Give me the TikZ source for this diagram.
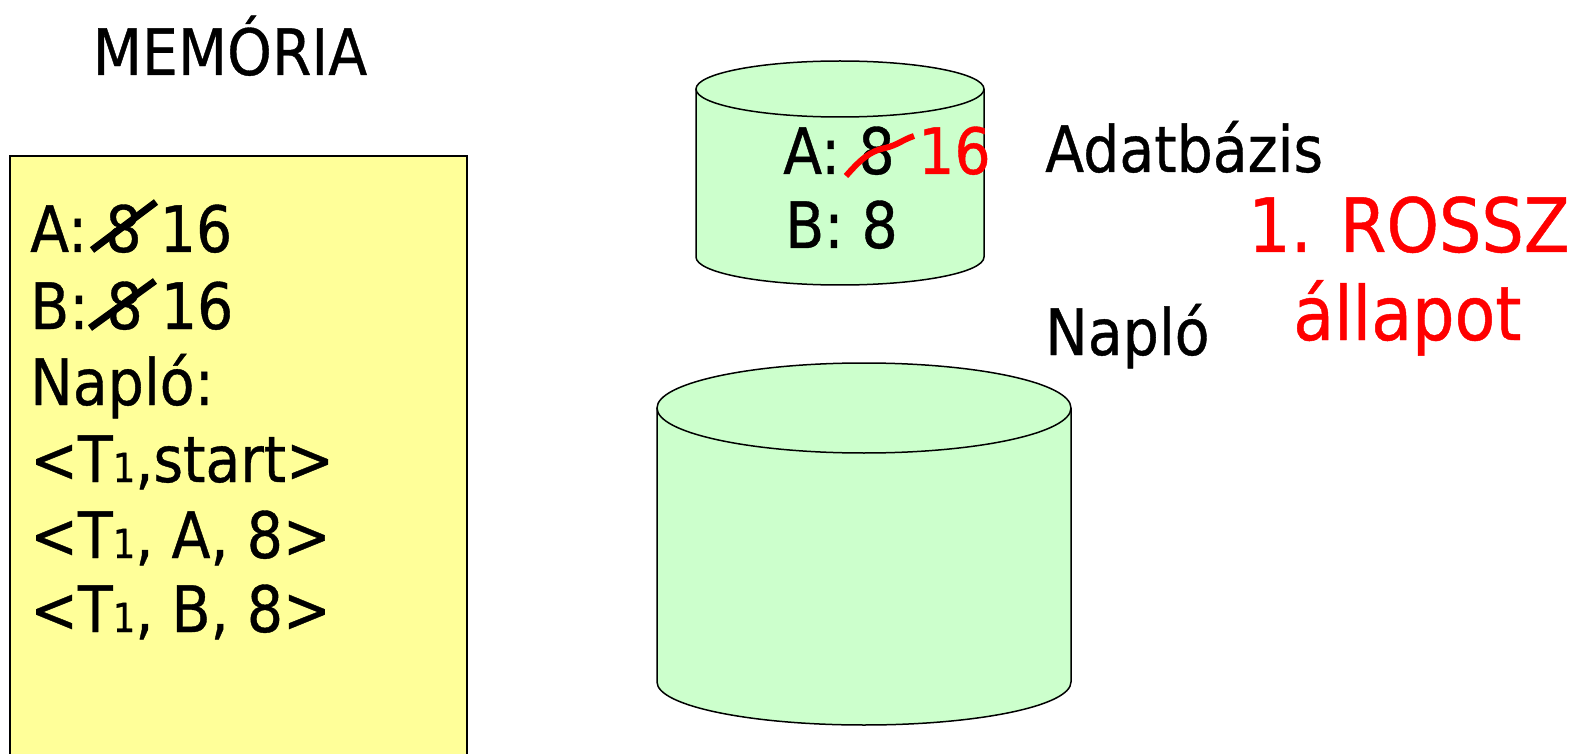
\documentclass[tikz,border=0pt]{standalone}
\usepackage{fontspec}
\setmainfont{DejaVu Sans}[FakeStretch=0.89,FakeBold=0.6]
\definecolor{memyellow}{HTML}{FFFF99}
\definecolor{dbgreen}{HTML}{CCFFCC}
\definecolor{alertred}{HTML}{FF0000}
\newcommand\subone{{\fontsize{40}{40}\selectfont 1}}
\begin{document}
\begin{tikzpicture}[x=1pt,y=1pt,
  txt/.style={inner sep=0pt, anchor=base west, font=\fontsize{64}{64}\selectfont},
  bigred/.style={inner sep=0pt, anchor=base west, text=alertred, font=\fontsize{75}{75}\selectfont},
  strike/.style={line width=7pt},
  cylfill/.style={fill=dbgreen},
  cylline/.style={draw=black, line width=1.5pt}]
\useasboundingbox (0,0) rectangle (1575,-754);

% memory
\node[inner sep=0pt, anchor=base, font=\fontsize{64}{64}\selectfont] (memoria) at (230,-75) {MEMÓRIA};
\draw[fill=memyellow, line width=1.5pt] (10,-156) rectangle (467,-764);
\node[txt] (la) at (30,-252) {A: 8 16};
\node[txt] (lb) at (30,-329) {B: 8 16};
\node[txt] (ln) at (30,-405) {Napló:};
\node[txt] (l1) at (30,-482) {<T\subone,start>};
\node[txt] (l2) at (30,-558) {<T\subone, A, 8>};
\node[txt] (l3) at (30,-632) {<T\subone, B, 8>};
\coordinate (sa1) at (92,-250); \coordinate (sa2) at (156,-202);
\coordinate (sb1) at (90,-328); \coordinate (sb2) at (155,-281);
\draw[strike] (sa1) -- (sa2);
\draw[strike] (sb1) -- (sb2);

% database cylinder
\coordinate (dbt) at (840,-89);
\coordinate (dbb) at (840,-257);
\fill[cylfill] (dbb) ellipse[x radius=144pt, y radius=28pt];
\fill[cylfill] (696,-89) rectangle (984,-257);
\draw[cylline] (696,-89) -- (696,-257) arc[start angle=180, end angle=360, x radius=144pt, y radius=28pt] -- (984,-89);
\draw[cylline, cylfill] (dbt) ellipse[x radius=144pt, y radius=28pt];
\node[txt] (da) at (783,-174) {A: 8};
\node[txt, text=alertred] (d16) at (918,-174) {16};
\node[txt] (db) at (785,-248) {B: 8};
\coordinate (rs1) at (846,-176);
\coordinate (rs2) at (914,-136);
\draw[draw=alertred, line width=6pt] (rs1) .. controls (860,-160) and (870,-151) .. (885,-148) .. controls (898,-145) and (902,-140) .. (rs2);

% log cylinder
\coordinate (lgt) at (864,-408);
\coordinate (lgb) at (864,-682);
\fill[cylfill] (lgb) ellipse[x radius=207pt, y radius=43pt];
\fill[cylfill] (657,-408) rectangle (1071,-682);
\draw[cylline] (657,-408) -- (657,-682) arc[start angle=180, end angle=360, x radius=207pt, y radius=43pt] -- (1071,-408);
\draw[cylline, cylfill] (lgt) ellipse[x radius=207pt, y radius=45pt];

% labels
\node[txt] (adat) at (1045,-172) {Adatbázis};
\node[txt] (naplo) at (1045,-355) {Napló};
\node[bigred] (rossz) at (1248,-252) {1. ROSSZ};
\node[bigred] (allapot) at (1293,-340) {állapot};
\end{tikzpicture}
\end{document}
